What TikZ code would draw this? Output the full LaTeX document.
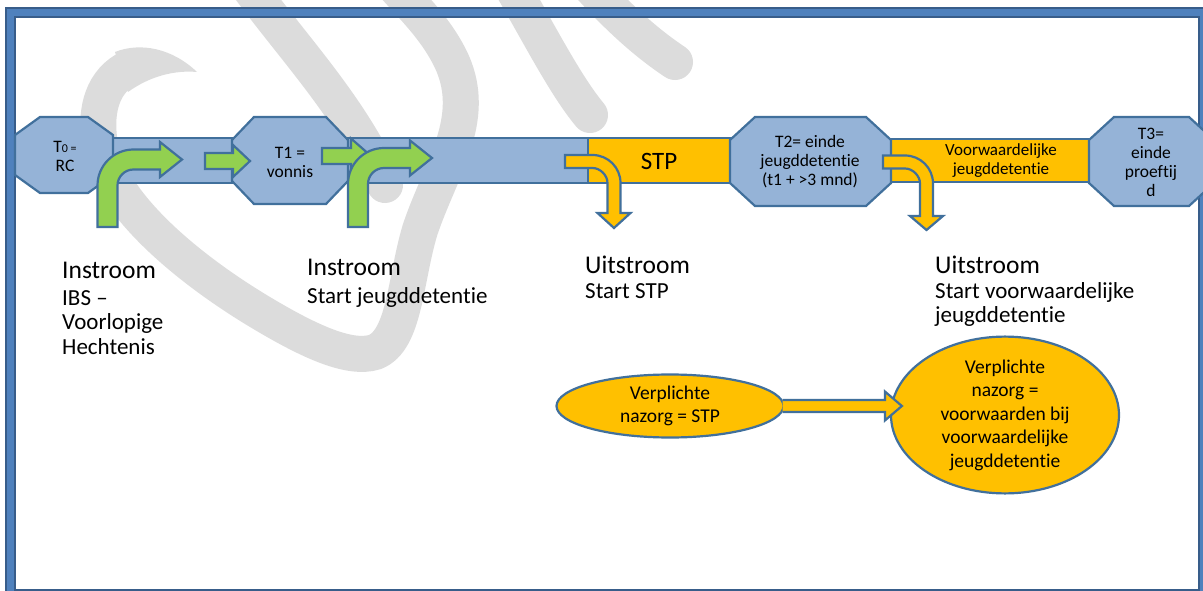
\documentclass[tikz,border=0pt]{standalone}
\usepackage{fontspec}
\setmainfont{Carlito}[Ligatures=NoCommon]
\usetikzlibrary{shapes.geometric,calc}

\definecolor{frameblue}{HTML}{4F81BD}
\definecolor{framedark}{HTML}{385D8A}
\definecolor{boxblue}{HTML}{95B3D7}
\definecolor{edgeblue}{HTML}{41709C}
\definecolor{stporange}{HTML}{FFC000}
\definecolor{arrowgreen}{HTML}{92D050}
\definecolor{swirlgrey}{HTML}{DCDCDC}

\tikzset{
  shape line/.style={draw=edgeblue, line width=2.2pt, line join=miter},
  bluebar/.style={shape line, fill=boxblue},
  orangebar/.style={shape line, fill=stporange},
  greenarrow/.style={shape line, fill=arrowgreen},
  orangearrow/.style={shape line, fill=stporange},
  octtext/.style={font=\fontsize{17.5}{19}\selectfont, align=center, inner sep=0pt},
  bartext/.style={font=\fontsize{17}{19}\selectfont, align=center, inner sep=0pt},
  heading/.style={font=\fontsize{25.5}{28}\selectfont, anchor=base west, inner sep=0pt},
  subline/.style={font=\fontsize{23}{24.5}\selectfont, anchor=base west, inner sep=0pt},
  bubble/.style={ellipse, shape line, fill=stporange, inner sep=0pt,
    font=\fontsize{19.5}{23.5}\selectfont, align=center},
  swirl/.style={draw=swirlgrey, line width=36pt, line cap=round},
}

% octagon: left, top, right, bottom, horizontal cut, vertical cut
\newcommand\octbox[6]{%
  \draw[bluebar] ({#1+#5},#2) -- ({#3-#5},#2) -- (#3,{#2+#6}) -- (#3,{#4-#6})
    -- ({#3-#5},#4) -- ({#1+#5},#4) -- (#1,{#4-#6}) -- (#1,{#2+#6}) -- cycle;}

% arrow rising from below and turning right
% style, stem centre x, stem bottom y, shaft centre y, head back x, tip x
\newcommand\upright[6]{%
  \draw[#1] ({#2-10},#3) -- ({#2-10},{#4+26})
    .. controls ({#2-10},{#4+6.1}) and ({#2+6.1},{#4-10}) .. ({#2+26},{#4-10})
    -- (#5,{#4-10}) -- (#5,{#4-17.5}) -- (#6,#4) -- (#5,{#4+17.5}) -- (#5,{#4+10})
    -- ({#2+26},{#4+10})
    .. controls ({#2+17.2},{#4+10}) and ({#2+10},{#4+17.2}) .. ({#2+10},{#4+26})
    -- ({#2+10},#3) -- cycle;}

% arrow coming from the left and turning down
% style, shaft start x, shaft centre y, stem centre x, head back y, tip y
\newcommand\rightdown[6]{%
  \draw[#1] (#2,{#3-6.5}) -- ({#4-21.5},{#3-6.5})
    .. controls ({#4-6.0},{#3-6.5}) and ({#4+6.5},{#3+6.0}) .. ({#4+6.5},{#3+21.5})
    -- ({#4+6.5},#5) -- ({#4+16.5},#5) -- (#4,#6) -- ({#4-16.5},#5) -- ({#4-6.5},#5)
    -- ({#4-6.5},{#3+21.5})
    .. controls ({#4-6.5},{#3+13.8}) and ({#4-13.8},{#3+6.5}) .. ({#4-21.5},{#3+6.5})
    -- (#2,{#3+6.5}) -- cycle;}

\begin{document}
\begin{tikzpicture}[x=1pt, y=-1pt]
\useasboundingbox (0,0) rectangle (1203,591);
\clip (0,0) rectangle (1203,591);
\fill[white] (0,0) rectangle (1203,591);

% grey swirl emblem in the background
\fill[swirlgrey] (197,72) .. controls (172,48) and (140,42) .. (115,52)
  -- (128,92) .. controls (150,76) and (175,70) .. (197,72) -- cycle;
\draw[swirl] (125,70) .. controls (100,85) and (95,115) .. (100,145)
  .. controls (110,205) and (190,270) .. (260,312)
  .. controls (310,342) and (350,360) .. (375,352)
  .. controls (405,340) and (405,280) .. (420,230)
  .. controls (440,170) and (478,120) .. (452,62)
  .. controls (435,25) and (405,0) .. (385,-25);
\draw[swirl] (240,-25) .. controls (290,45) and (350,105) .. (385,185);
\draw[swirl] (505,-25) .. controls (540,35) and (565,85) .. (590,115);
\draw[swirl] (580,-25) .. controls (615,15) and (645,42) .. (675,62);

% outer frame
\draw[framedark, line width=11pt] (10.5,13) rectangle (1203.5,594.5);
\draw[frameblue, line width=7pt] (10.5,13) rectangle (1203.5,594.5);

% time line bars
\draw[bluebar] (110,138) rectangle (234,183);
\draw[bluebar] (346,138) rectangle (588,183);
\draw[orangebar] (588,138) rectangle (732,183);
\draw[orangebar] (889,139) rectangle (1092,182);

% moments on the time line
\octbox{15}{117}{113}{193}{25}{18}
\octbox{232}{117}{348}{204}{22}{23}
\octbox{730}{117}{891}{206}{25}{23}
\octbox{1089}{117}{1214}{206}{25}{23}

% inflow arrows
\upright{greenarrow}{107.5}{227}{159.5}{160}{182}
\draw[greenarrow] (205,153) -- (233,153) -- (233,145) -- (250,161) -- (233,177)
  -- (233,169) -- (205,169) -- cycle;
\draw[greenarrow] (322,148) -- (351,148) -- (351,138.5) -- (371,156) -- (351,173.5)
  -- (351,164) -- (322,164) -- cycle;
\upright{greenarrow}{358}{227}{158}{410}{432}

% outflow arrows
\rightdown{orangearrow}{565}{161.5}{614}{213}{228}
\rightdown{orangearrow}{883}{162}{926.5}{216}{230}

% texts on the time line
\node[octtext] (t0) at (65,156) {T{\fontsize{12}{12}\selectfont 0 =}\\RC};
\node[octtext] (t1) at (290,162) {T1 =\\vonnis};
\node[octtext] (t2) at (810,162) {T2= einde\\jeugddetentie\\(t1 + >3 mnd)};
\node[octtext] (t3) at (1151,162) {T3=\\einde\\proeftij\\d};
\node[font=\fontsize{25}{28}\selectfont, inner sep=0pt] (stp) at (659,161) {STP};
\node[bartext] (vj) at (1001,161) {Voorwaardelijke\\jeugddetentie};

% captions under the time line
\node[heading] (in1) at (62,278) {Instroom};
\node[subline] (in1a) at (62,305) {IBS –};
\node[subline] (in1b) at (62,329.5) {Voorlopige};
\node[subline] (in1c) at (62,354) {Hechtenis};
\node[heading] (in2) at (307,275) {Instroom};
\node[subline] (in2a) at (307,303) {Start jeugddetentie};
\node[heading] (out1) at (585,273) {Uitstroom};
\node[subline] (out1a) at (585,298) {Start STP};
\node[heading] (out2) at (935,273) {Uitstroom};
\node[subline] (out2a) at (935,298) {Start voorwaardelijke};
\node[subline] (out2b) at (935,322.5) {jeugddetentie};

% aftercare
\node[bubble, minimum width=227pt, minimum height=63pt] (E1) at (670,406)
  {Verplichte\\nazorg = STP};
\node[bubble, minimum width=228pt, minimum height=126pt] (E2) at (1005,415)
  {Verplichte\\nazorg =\\voorwaarden bij\\voorwaardelijke\\jeugddetentie};
\coordinate (E2in) at (E2.west |- E1.east);
\draw[orangearrow] ($(E1.east)+(-2,-6)$) -- ($(E2in)+(-5,-6)$) -- ($(E2in)+(-5,-14.5)$)
  -- ($(E2in)+(12,0)$) -- ($(E2in)+(-5,14.5)$) -- ($(E2in)+(-5,6)$)
  -- ($(E1.east)+(-2,6)$);
\end{tikzpicture}
\end{document}
